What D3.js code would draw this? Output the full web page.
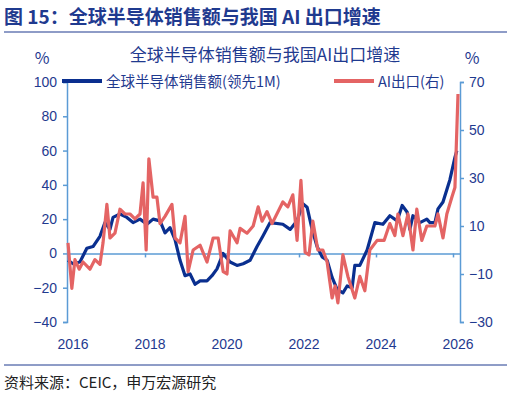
<!DOCTYPE html>
<html><head><meta charset="utf-8">
<script src="https://cdn.jsdelivr.net/npm/d3@7"></script>
<style>body{margin:0;background:#fff;font-family:"Noto Sans CJK SC","Noto Sans",sans-serif}</style>
</head><body>
<svg id="c" width="511" height="400"></svg>
<script>
// 全球半导体销售额(领先1M), 左轴
const semiYears = [2016.00,2016.13,2016.31,2016.49,2016.65,2016.83,2016.96,2017.09,2017.17,2017.35,2017.53,2017.69,2017.87,2018.05,2018.21,2018.39,2018.52,2018.65,2018.78,2018.91,2019.04,2019.17,2019.30,2019.43,2019.61,2019.74,2019.87,2020.03,2020.21,2020.39,2020.55,2020.73,2020.91,2021.06,2021.25,2021.58,2021.77,2021.95,2022.10,2022.21,2022.34,2022.47,2022.60,2022.73,2022.86,2022.99,2023.14,2023.25,2023.38,2023.45,2023.58,2023.77,2023.97,2024.18,2024.36,2024.55,2024.68,2024.81,2024.88,2024.96,2025.14,2025.32,2025.40,2025.53,2025.61,2025.74,2025.92,2026.05,2026.10];
const semiValues = [-4,-6,-5,3,4,10,18,14,21,23,21,18,20,17,20,19,12,15,8,-4,-13,-12,-18,-16,-16,-13,-9,0,-5,-7,-6,-4,4,10,18,17,14,19,29,27,14,4,-2,-4,-14,-21,-23,-19,-20,-7,-7,2,18,17,22,19,28,24,14,22,18,20,18,18,26,30,43,56,60];
// AI出口(右轴)
const aiYears = [2016.00,2016.10,2016.18,2016.29,2016.39,2016.57,2016.70,2016.83,2016.91,2017.01,2017.09,2017.22,2017.35,2017.48,2017.61,2017.74,2017.87,2017.95,2018.03,2018.10,2018.21,2018.31,2018.39,2018.52,2018.70,2018.78,2018.91,2019.04,2019.12,2019.25,2019.43,2019.61,2019.77,2019.90,2020.03,2020.13,2020.21,2020.39,2020.47,2020.65,2020.81,2020.94,2021.04,2021.17,2021.30,2021.58,2021.71,2021.84,2021.95,2022.05,2022.16,2022.26,2022.36,2022.49,2022.62,2022.73,2022.86,2022.94,2023.01,2023.14,2023.27,2023.45,2023.58,2023.71,2023.84,2024.03,2024.21,2024.36,2024.49,2024.57,2024.70,2024.83,2024.96,2025.06,2025.19,2025.32,2025.53,2025.61,2025.74,2025.84,2025.97,2026.05,2026.13];
const aiValues = [3,-16,-4,-8,-5,-8,-4,-6,3,19,5,7,17,15,15,13,15,28,0,38,22,22,11,14,19,5,3,14,-9,0,2,-5,5,5,-9,-10,8,3,9,7,10,18,12,16,11,20,18,23,4,29,-1,-2,12,0,0,-5,-20,-15,-22,-2,-11,-20,-11,-17,0,4,4,11,6,15,6,15,0,17,4,10,10,15,5,15,22,26,65];
const leftTicks = [-40,-20,0,20,40,60,80,100];
const rightTicks = [-30,-10,10,30,50,70];
const yearTicks = [2016,2018,2020,2022,2024,2026];

const navy = "#1f3a8f", axisBlue = "#5b9bd5", semiColor = "#0a2f8f", aiColor = "#e46464";
const svg = d3.select("#c");

svg.append("text").attr("x", 4).attr("y", 24).attr("fill", navy)
  .attr("font-size", 19).attr("font-weight", "bold").text("图 15：全球半导体销售额与我国 AI 出口增速");
svg.append("line").attr("x1", 4).attr("x2", 507).attr("y1", 32).attr("y2", 32).attr("stroke", navy).attr("stroke-width", 1.2);

const x = d3.scaleLinear().domain([2016, 2026]).range([68, 453]);
const yL = d3.scaleLinear().domain([-40, 100]).range([322, 82]);
const yR = d3.scaleLinear().domain([-30, 70]).range([322, 82]);

svg.append("text").attr("x", 265).attr("y", 61).attr("text-anchor", "middle").attr("fill", navy)
  .attr("font-size", 17).text("全球半导体销售额与我国AI出口增速");
svg.append("text").attr("x", 42).attr("y", 64).attr("text-anchor", "middle").attr("fill", navy).attr("font-size", 16).text("%");
svg.append("text").attr("x", 472).attr("y", 64).attr("text-anchor", "middle").attr("fill", navy).attr("font-size", 16).text("%");

const gl = svg.append("g").attr("transform", "translate(67,0)").call(d3.axisLeft(yL).tickValues(leftTicks).tickSize(4));
const gr = svg.append("g").attr("transform", "translate(460,0)").call(d3.axisRight(yR).tickValues(rightTicks).tickSize(4));
const gx = svg.append("g").attr("transform", `translate(0,${yL(0)})`)
  .call(d3.axisBottom(x).tickValues(yearTicks).tickFormat(() => "").tickSize(4));
gx.select(".domain").attr("d", `M67,0.5H460`);
[gl, gr, gx].forEach(g => {
  g.selectAll("path,line").attr("stroke", axisBlue).attr("stroke-width", 1.5);
  g.selectAll("text").attr("fill", navy).attr("font-size", 14).attr("font-family", "Liberation Sans, Arial, sans-serif");
});
gl.selectAll("text").attr("x", -10);
gr.selectAll("text").attr("x", 9);
svg.append("g").selectAll("text").data(yearTicks).join("text")
  .attr("x", d => x(d) + 5).attr("y", 349).attr("text-anchor", "middle").attr("fill", navy)
  .attr("font-size", 14).attr("font-family", "Liberation Sans, Arial, sans-serif").text(d => d);

const semi = semiYears.map((t, i) => [t, semiValues[i]]);
const ai = aiYears.map((t, i) => [t, aiValues[i]]);
svg.append("path").datum(semi).attr("fill", "none").attr("stroke", semiColor).attr("stroke-width", 3.2)
  .attr("stroke-linejoin", "round").attr("d", d3.line().x(d => x(d[0])).y(d => yL(d[1])));
svg.append("path").datum(ai).attr("fill", "none").attr("stroke", aiColor).attr("stroke-width", 3.2)
  .attr("stroke-linejoin", "round").attr("d", d3.line().x(d => x(d[0])).y(d => yR(d[1])));

// legend
const lg = svg.append("g");
lg.append("line").attr("x1", 62).attr("x2", 102).attr("y1", 81).attr("y2", 81).attr("stroke", semiColor).attr("stroke-width", 4);
lg.append("text").attr("x", 106).attr("y", 87).attr("fill", navy).attr("font-size", 14.5).text("全球半导体销售额(领先1M)");
lg.append("line").attr("x1", 334).attr("x2", 374).attr("y1", 81).attr("y2", 81).attr("stroke", aiColor).attr("stroke-width", 4);
lg.append("text").attr("x", 378).attr("y", 87).attr("fill", navy).attr("font-size", 14.5).text("AI出口(右)");

svg.append("line").attr("x1", 4).attr("x2", 507).attr("y1", 365).attr("y2", 365).attr("stroke", navy).attr("stroke-width", 1);
svg.append("text").attr("x", 4).attr("y", 388).attr("fill", "#222").attr("font-size", 15).text("资料来源：CEIC，申万宏源研究");
</script>
</body></html>
